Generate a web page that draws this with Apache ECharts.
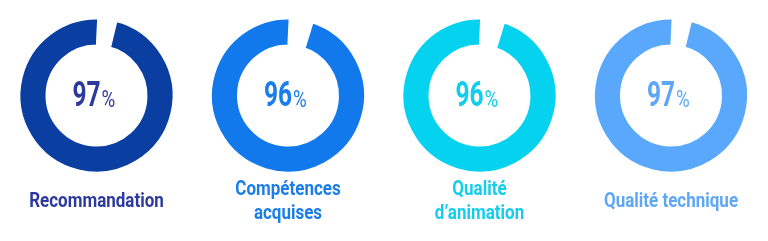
<!DOCTYPE html>
<html>
<head>
<meta charset="utf-8">
<script src="https://cdn.jsdelivr.net/npm/echarts@6/dist/echarts.min.js"></script>
<style>
html,body{margin:0;padding:0;background:#fff;}
#c{width:768px;height:241px;}
</style>
</head>
<body>
<div id="c"></div>
<script>
const categories = ['Recommandation', 'Compétences\nacquises', 'Qualité\nd’animation', 'Qualité technique'];
const values = [97, 96, 96, 97];
const ringColors = ['#0A3FA1', '#1279EC', '#04D2EF', '#5AA8FB'];
const textColors = ['#2C3A9E', '#1A7DEA', '#12CDEB', '#5FA7F6'];

const FONT = "Roboto, 'Noto Sans', sans-serif";
const chart = echarts.init(document.getElementById('c'), null, {renderer: 'canvas'});

const series = [];
const graphics = [];
values.forEach((v, i) => {
  const cx = 96.5 + i * 191.5;
  const cy = 95.5;
  series.push({
    type: 'pie',
    center: [cx, cy],
    radius: [48, 79],
    startAngle: 87.3,
    clockwise: true,
    silent: true,
    animation: false,
    label: {show: false},
    labelLine: {show: false},
    data: [
      {value: 100 - v, name: 'gap', itemStyle: {color: '#ffffff'}},
      {value: v, name: categories[i], itemStyle: {color: ringColors[i], borderColor: '#ffffff', borderWidth: 6}}
    ]
  });
  graphics.push({
    type: 'text',
    x: cx + 4,
    y: 97,
    scaleX: 0.7,
    style: {
      text: String(v),
      textAlign: 'right',
      textVerticalAlign: 'middle',
      fontFamily: FONT,
      fontWeight: 'bold',
      fontSize: 35,
      fill: textColors[i]
    }
  });
  graphics.push({
    type: 'text',
    x: cx + 5,
    y: 101,
    scaleX: 0.78,
    style: {
      text: '%',
      textAlign: 'left',
      textVerticalAlign: 'middle',
      fontFamily: FONT,
      fontWeight: 'normal',
      fontSize: 24,
      fill: textColors[i]
    }
  });
  graphics.push({
    type: 'text',
    x: cx,
    y: 202,
    scaleX: 0.85,
    style: {
      text: categories[i],
      textAlign: 'center',
      textVerticalAlign: 'middle',
      fontFamily: FONT,
      fontWeight: 'bold',
      fontSize: 20,
      lineHeight: 24,
      fill: textColors[i]
    }
  });
});

chart.setOption({
  animation: false,
  series: series,
  graphic: graphics
});
</script>
</body>
</html>
